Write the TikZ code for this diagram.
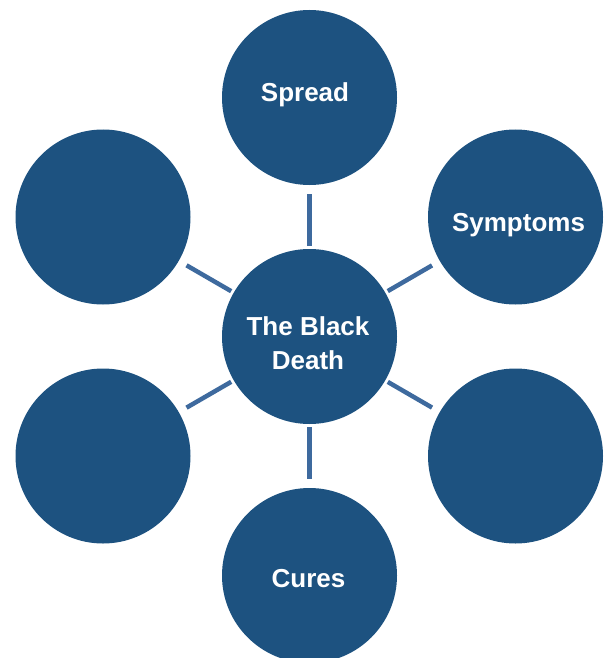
\documentclass[tikz,border=0pt]{standalone}
\usepackage{fontspec}
\setmainfont{Liberation Sans}
\definecolor{circfill}{RGB}{29,82,128}
\definecolor{connblue}{RGB}{62,106,158}
\begin{document}
\begin{tikzpicture}[x=1pt,y=-1pt,
  bubble/.style={circle,fill=circfill,draw=none,minimum size=175pt,inner sep=0pt,outer sep=0pt},
  conn/.style={draw=connblue,line width=4.5pt,line cap=butt,shorten <=3pt,shorten >=9pt},
  lbl/.style={anchor=base,text=white,font=\fontsize{26}{34}\selectfont\bfseries,inner sep=0pt}]
\useasboundingbox (0,0) rectangle (605,658);
\node[bubble] (c)  at (309.5,336.5) {};
\node[bubble] (t)  at (309.5,97.5) {};
\node[bubble] (ur) at (515.5,217) {};
\node[bubble] (lr) at (515.5,456) {};
\node[bubble] (b)  at (309.5,575.5) {};
\node[bubble] (ll) at (103,456) {};
\node[bubble] (ul) at (103,217) {};
\foreach \n in {t,ur,lr,b,ll,ul} \draw[conn] (c) -- (\n);
\node[lbl] (tspread) at (305,102) {Spread};
\node[lbl] (tsym) at (518.5,231) {Symptoms};
\node[lbl] (tc1) at (308,335) {The Black};
\node[lbl] (tc2) at (308,369) {Death};
\node[lbl] (tcures) at (308.5,587) {Cures};
\end{tikzpicture}
\end{document}
